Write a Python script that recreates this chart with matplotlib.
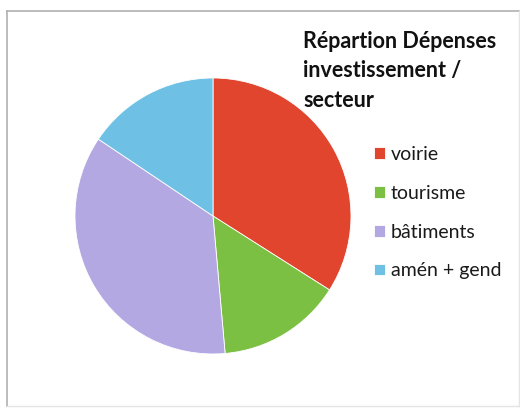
import matplotlib
matplotlib.use("Agg")
import matplotlib.pyplot as plt
from matplotlib.lines import Line2D

# dépenses d'investissement par secteur (%)
secteurs = ["voirie", "tourisme", "bâtiments", "amén + gend"]
parts = [34.0, 14.6, 35.8, 15.6]
couleurs = ["#E2452E", "#7CC043", "#B4A8E2", "#6EC1E4"]
titre = "Répartion Dépenses\ninvestissement /\nsecteur"

plt.rcParams['font.family'] = ['Lato', 'DejaVu Sans']

fig = plt.figure(figsize=(5.2, 4.09), dpi=100)
fig.patch.set_facecolor("white")

# cadre du graphique
fig.add_artist(Line2D([7/520, 7/520], [1 - 11/409, 1 - 406/409], color="#b0b0b0", lw=1.2))
fig.add_artist(Line2D([7/520, 519/520], [1 - 11/409, 1 - 11/409], color="#b0b0b0", lw=1.2))
fig.add_artist(Line2D([519/520, 519/520], [1 - 11/409, 1 - 406/409], color="#e4e4e4", lw=1))
fig.add_artist(Line2D([7/520, 519/520], [1 - 406/409, 1 - 406/409], color="#e4e4e4", lw=1))

ax = fig.add_axes([0.1442, 0.1345, 0.5308, 0.6748])
wedges, _ = ax.pie(parts, colors=couleurs, startangle=90, counterclock=False,
                   wedgeprops=dict(edgecolor="white", linewidth=0.6))
ax.set_xlim(-1, 1)
ax.set_ylim(-1, 1)
ax.set_aspect("equal")

fig.text(303/520, 1 - 31/409, titre, ha="left", va="top", fontsize=15.5,
         fontweight="bold", color="#111111", linespacing=1.5)

fig.legend(wedges, secteurs, loc="upper left", bbox_to_anchor=(374/520, 1 - 146/409),
           frameon=False, fontsize=14, handlelength=0.55, handleheight=0.55,
           handletextpad=0.3, labelspacing=1.12, labelcolor="#1a1a1a",
           borderaxespad=0, borderpad=0)

fig.savefig("out.png", dpi=100, facecolor="white")
